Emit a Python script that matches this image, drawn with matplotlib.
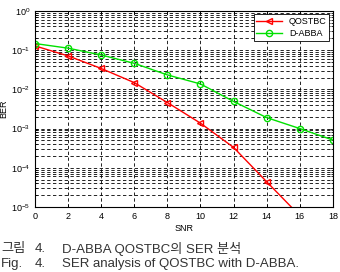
import matplotlib
matplotlib.use("Agg")
import matplotlib.pyplot as plt
from matplotlib.ticker import LogLocator, NullFormatter

plt.rcParams['font.family'] = ['Liberation Sans', 'Noto Sans CJK KR', 'DejaVu Sans']

# SNR (dB) and error rates
snr = [0, 2, 4, 6, 8, 10, 12, 14, 16]
qostbc = [0.128, 0.071, 0.034, 0.0148, 0.0046, 0.00137, 0.00033, 4.4e-5, 6e-6]
snr_abba = [0, 2, 4, 6, 8, 10, 12, 14, 16, 18]
dabba = [0.147, 0.112, 0.075, 0.046, 0.0233, 0.0137, 0.0049, 0.0019, 0.001, 0.00051]
xticks = [0, 2, 4, 6, 8, 10, 12, 14, 16, 18]

fig = plt.figure(figsize=(3.4, 2.72), dpi=100)
ax = fig.add_axes([0.103, 0.239, 0.876, 0.721])

ax.semilogy(snr, qostbc, color='#ff0000', marker='<', markersize=5,
            markerfacecolor='none', markeredgewidth=1.0, lw=1.0, label='QOSTBC')
ax.semilogy(snr_abba, dabba, color='#00e000', marker='o', markersize=4.5,
            markerfacecolor='none', markeredgewidth=1.0, lw=1.0, label='D-ABBA')

ax.set_xlim(0, 18)
ax.set_ylim(1e-5, 1)
ax.set_xticks(xticks)
ax.yaxis.set_major_locator(LogLocator(base=10, numticks=10))
ax.yaxis.set_minor_locator(LogLocator(base=10, subs=range(2, 10), numticks=10))
ax.yaxis.set_minor_formatter(NullFormatter())
ax.tick_params(axis='both', which='both', direction='in', labelsize=6.5,
               top=True, right=True, length=2.5, width=0.6)
ax.tick_params(axis='y', which='minor', length=1.5)

ax.grid(True, which='major', color='black', linestyle=(0, (4, 3)), lw=0.6)
ax.grid(True, which='minor', axis='y', color='black', linestyle=(0, (4, 3)), lw=0.6)
for s in ax.spines.values():
    s.set_linewidth(0.8)

ax.set_xlabel('SNR', fontsize=6.5, labelpad=2)
ax.set_ylabel('BER', fontsize=6.5, labelpad=2)

leg = ax.legend(loc='upper right', fontsize=6.5, fancybox=False, framealpha=1,
                edgecolor='black', borderpad=0.3, handlelength=2.8,
                labelspacing=0.3, borderaxespad=0.4)
leg.get_frame().set_linewidth(0.6)

# caption in two lines, columns placed like the printed figure caption
cap_color = '#333333'
cap_kw = dict(fontsize=9.5, color=cap_color, va='center')
fig.text(0.003, 0.085, '그림', **cap_kw)
fig.text(0.103, 0.085, '4.', **cap_kw)
fig.text(0.182, 0.085, 'D-ABBA QOSTBC의 SER 분석', **cap_kw)
fig.text(0.003, 0.028, 'Fig.', **cap_kw)
fig.text(0.103, 0.028, '4.', **cap_kw)
fig.text(0.182, 0.028, 'SER analysis of QOSTBC with D-ABBA.', **cap_kw)

fig.savefig('out.png', dpi=100)
